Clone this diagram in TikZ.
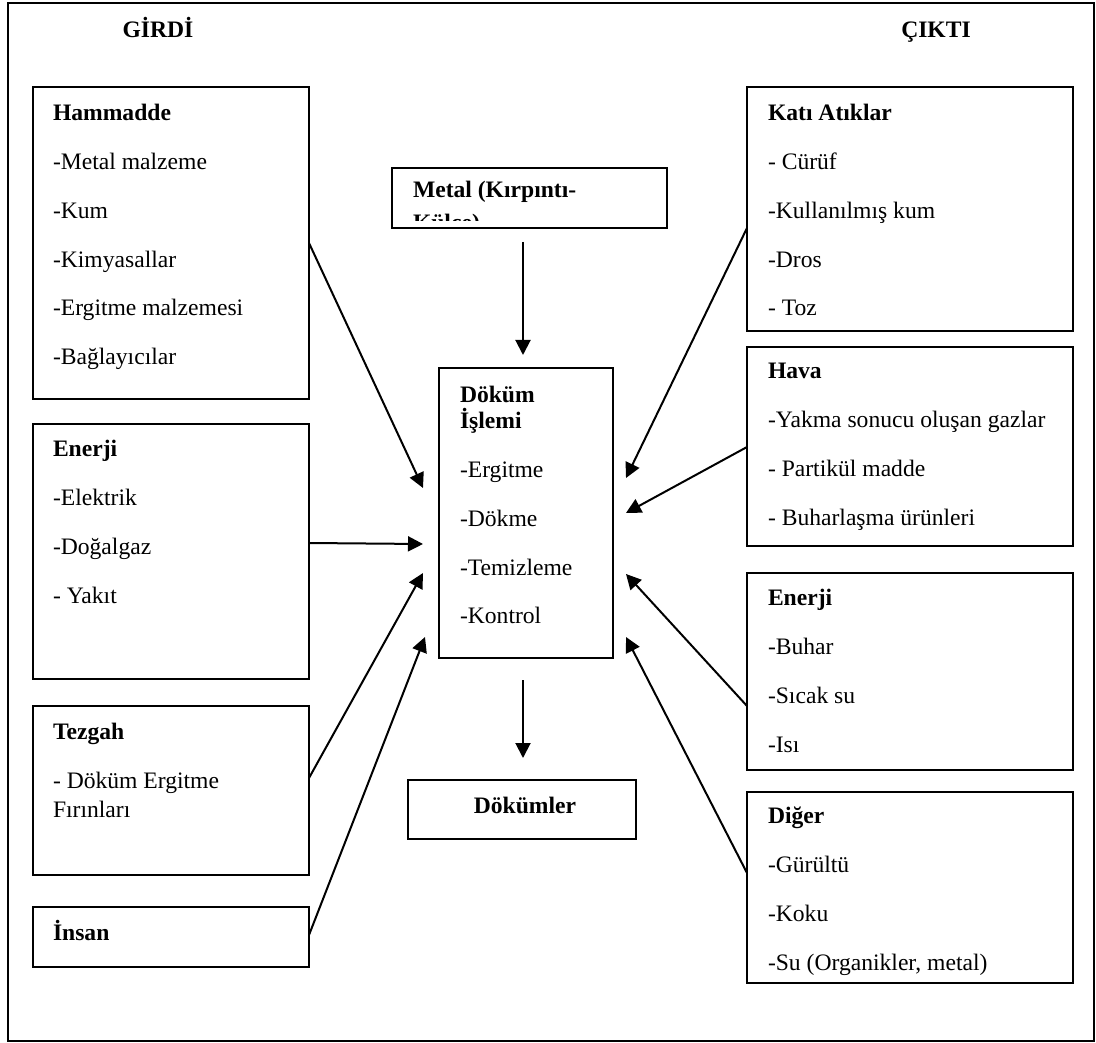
\documentclass[tikz,border=0pt]{standalone}
\usepackage{fontspec}
\setmainfont{Liberation Serif}
\usetikzlibrary{arrows.meta,calc}
\begin{document}
\begin{tikzpicture}[x=1pt,y=-1pt,
  box/.style={draw, line width=2pt, rectangle, inner sep=0pt, outer sep=0pt},
  txt/.style={font=\fontsize{23.6pt}{28pt}\selectfont, inner sep=0pt, outer sep=0pt, anchor=base west},
  hd/.style={txt, font=\fontsize{23.6pt}{28pt}\selectfont\bfseries},
  arr/.style={line width=2pt, -{Triangle[length=15pt,width=15pt]}}]
\useasboundingbox (0,0) rectangle (1096,1043);
% outer frame
\node[box, minimum width=1086pt, minimum height=1038pt] (fr) at (551,522) {};
% titles
\node[hd, anchor=base] (girdi) at (158,38) {GİRDİ};
\node[hd, anchor=base] (cikti) at (936,38) {ÇIKTI};
% left boxes
\node[box, minimum width=276pt, minimum height=312pt] (ham) at (171,243) {};
\node[box, minimum width=276pt, minimum height=255pt] (enl) at (171,551.5) {};
\node[box, minimum width=276pt, minimum height=169pt] (tez) at (171,790.5) {};
\node[box, minimum width=276pt, minimum height=60pt] (ins) at (171,937) {};
% right boxes
\node[box, minimum width=326pt, minimum height=244pt] (kat) at (910,209) {};
\node[box, minimum width=326pt, minimum height=199pt] (hav) at (910,446.5) {};
\node[box, minimum width=326pt, minimum height=197pt] (enr) at (910,671.5) {};
\node[box, minimum width=326pt, minimum height=191pt] (dig) at (910,887.5) {};
% center boxes
\node[box, minimum width=275pt, minimum height=60pt] (met) at (529.5,198) {};
\node[box, minimum width=174pt, minimum height=290pt] (dok) at (526,513) {};
\node[box, minimum width=228pt, minimum height=59pt] (dkm) at (522,809.5) {};
% Hammadde texts
\node[hd] (h0) at (53,120.7) {Hammadde};
\node[txt] (h1) at (53,169.5) {-Metal malzeme};
\node[txt] (h2) at (53,218.3) {-Kum};
\node[txt] (h3) at (53,267.1) {-Kimyasallar};
\node[txt] (h4) at (53,315.9) {-Ergitme malzemesi};
\node[txt] (h5) at (53,364.7) {-Bağlayıcılar};
% Enerji left
\node[hd] (e0) at (53,456.7) {Enerji};
\node[txt] (e1) at (53,505.7) {-Elektrik};
\node[txt] (e2) at (53,554.7) {-Doğalgaz};
\node[txt] (e3) at (53,603.7) {- Yakıt};
% Tezgah
\node[hd] (t0) at (53,739) {Tezgah};
\node[txt] (t1) at (53,788) {- Döküm Ergitme};
\node[txt] (t2) at (53,817) {Fırınları};
% Insan
\node[hd] (i0) at (53,940.7) {İnsan};
% Kati Atiklar
\node[hd] (k0) at (768,120.7) {Katı Atıklar};
\node[txt] (k1) at (768,169.5) {- Cürüf};
\node[txt] (k2) at (768,218.3) {-Kullanılmış kum};
\node[txt] (k3) at (768,267.1) {-Dros};
\node[txt] (k4) at (768,315.9) {- Toz};
% Hava
\node[hd] (v0) at (768,378.5) {Hava};
\node[txt] (v1) at (768,427.5) {-Yakma sonucu oluşan gazlar};
\node[txt] (v2) at (768,476.5) {- Partikül madde};
\node[txt] (v3) at (768,525.5) {- Buharlaşma ürünleri};
% Enerji right
\node[hd] (r0) at (768,605) {Enerji};
\node[txt] (r1) at (768,654) {-Buhar};
\node[txt] (r2) at (768,703) {-Sıcak su};
\node[txt] (r3) at (768,752) {-Isı};
% Diger
\node[hd] (d0) at (768,823) {Diğer};
\node[txt] (d1) at (768,872) {-Gürültü};
\node[txt] (d2) at (768,921) {-Koku};
\node[txt] (d3) at (768,970) {-Su (Organikler, metal)};
% Metal
\begin{scope}
\clip (393,169) rectangle (666,221);
\node[hd] (m0) at (413,198) {Metal (Kırpıntı-};
\node[hd] (m1) at (413,230.5) {Külçe)};
\end{scope}
% Dokum islemi
\node[hd] (p0) at (460,402) {Döküm};
\node[hd] (p1) at (460,428) {İşlemi};
\node[txt] (p2) at (460,477) {-Ergitme};
\node[txt] (p3) at (460,526) {-Dökme};
\node[txt] (p4) at (460,575) {-Temizleme};
\node[txt] (p5) at (460,623) {-Kontrol};
% Dokumler
\node[hd, anchor=base] (q0) at (525,813) {Dökümler};
% arrow end coordinates
\coordinate (dL1) at ($(dok.north west)+(-16,120)$);
\coordinate (dL2) at ($(dok.north west)+(-16,176)$);
\coordinate (dL3) at ($(dok.north west)+(-16,205)$);
\coordinate (dL4) at ($(dok.north west)+(-14,269)$);
\coordinate (dR1) at ($(dok.north east)+(13,110)$);
\coordinate (dR2) at ($(dok.north east)+(13,145)$);
\coordinate (dR3) at ($(dok.north east)+(13,206)$);
\coordinate (dR4) at ($(dok.north east)+(13,269)$);
\coordinate (dT) at ($(dok.north)+(-3,-13)$);
\coordinate (dB) at ($(dok.south)+(-3,22)$);
\coordinate (mB) at ($(met.south)+(-6.5,14)$);
\coordinate (kB) at ($(dkm.north)+(1,-22)$);
% arrows
\draw[arr] ($(ham.north east)+(0,156)$) -- (dL1);
\draw[arr] ($(enl.north east)+(0,119)$) -- (dL2);
\draw[arr] ($(tez.north east)+(0,72)$) -- (dL3);
\draw[arr] ($(ins.north east)+(0,28)$) -- (dL4);
\draw[arr] ($(kat.north west)+(0,141)$) -- (dR1);
\draw[arr] ($(hav.north west)+(0,100)$) -- (dR2);
\draw[arr] ($(enr.north west)+(0,133)$) -- (dR3);
\draw[arr] ($(dig.north west)+(0,81)$) -- (dR4);
\draw[arr] (mB) -- (dT);
\draw[arr] (dB) -- (kB);
\end{tikzpicture}
\end{document}
